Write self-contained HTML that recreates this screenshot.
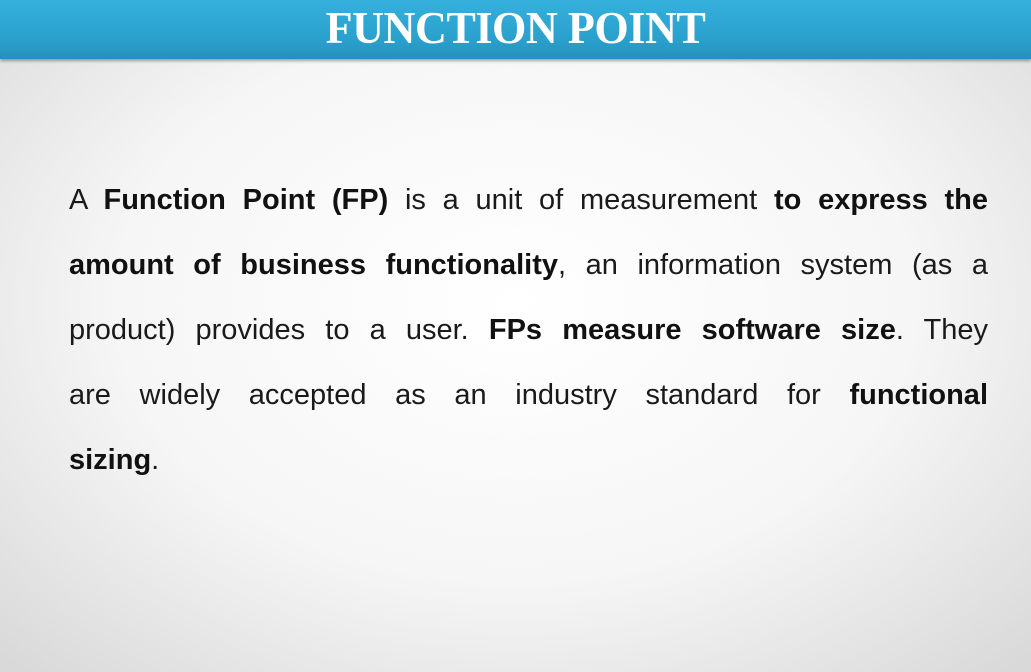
<!DOCTYPE html>
<html><head><meta charset="utf-8"><style>
html,body{margin:0;padding:0;}
body{width:1031px;height:672px;overflow:hidden;position:relative;font-family:"Liberation Sans",sans-serif;
background:radial-gradient(ellipse 70% 75% at 50% 45%,#ffffff 0%,#f6f6f6 55%,#d9d9d9 100%);}
#hdr{position:absolute;left:0;top:0;width:1031px;height:59px;background:linear-gradient(#35b0dc,#2a9fcc 70%,#2590bb);box-shadow:0 2px 3px rgba(0,0,0,.35);}
#title{position:absolute;left:0;top:4px;width:1031px;text-align:center;color:#fff;font-family:"Liberation Serif",serif;font-weight:bold;font-size:46px;line-height:48px;letter-spacing:-0.5px;transform:scaleX(0.96);}
#body{position:absolute;left:69px;top:168px;width:919px;font-size:29px;color:#1a1a1a;}
.ln{height:65px;line-height:65px;text-align:justify;text-align-last:justify;white-space:nowrap;}
.ln.last{text-align-last:left;}
b{font-weight:bold;color:#111;}
</style></head><body>
<div id="hdr"><div id="title">FUNCTION POINT</div></div>
<div id="body">
<div class="ln">A <b>Function Point (FP)</b> is a unit of measurement <b>to express the</b></div>
<div class="ln"><b>amount of business functionality</b>, an information system (as a</div>
<div class="ln">product) provides to a user. <b>FPs measure software size</b>. They</div>
<div class="ln">are widely accepted as an industry standard for <b>functional</b></div>
<div class="ln last"><b>sizing</b>.</div>
</div>
</body></html>
